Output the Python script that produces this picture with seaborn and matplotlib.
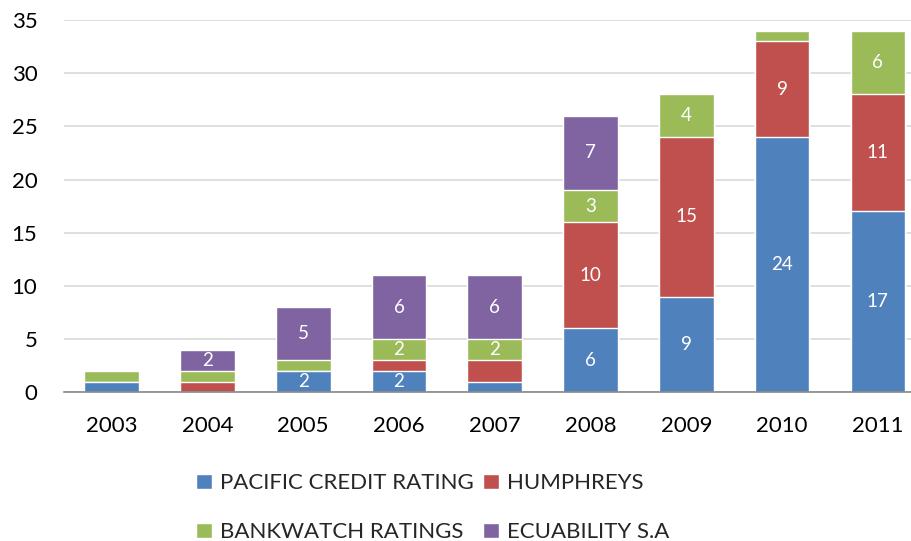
import numpy as np
import pandas as pd
import seaborn as sns
import matplotlib.pyplot as plt

# Data
years = ['2003', '2004', '2005', '2006', '2007', '2008', '2009', '2010', '2011']
series = ['PACIFIC CREDIT RATING', 'HUMPHREYS', 'BANKWATCH RATINGS', 'ECUABILITY S.A']
pacific = [1, 0, 2, 2, 1, 6, 9, 24, 17]
humphreys = [0, 1, 0, 1, 2, 10, 15, 9, 11]
bankwatch = [1, 1, 1, 2, 2, 3, 4, 1, 6]
ecuability = [0, 2, 5, 6, 6, 7, 0, 0, 0]
colors = ['#4F81BD', '#C0504D', '#9BBB59', '#8064A2']

# which segments carry a value label in the original
show_label = [
    [0, 0, 1, 1, 0, 1, 1, 1, 1],
    [0, 0, 0, 0, 0, 1, 1, 1, 1],
    [0, 0, 0, 1, 1, 1, 1, 0, 1],
    [0, 1, 1, 1, 1, 1, 0, 0, 0],
]

sns.set_style('white')
plt.rcParams['font.family'] = ['Lato', 'DejaVu Sans']

df = pd.DataFrame({'year': years, series[0]: pacific, series[1]: humphreys,
                   series[2]: bankwatch, series[3]: ecuability})
cum = df[series].cumsum(axis=1)

fig, ax = plt.subplots(figsize=(9.12, 5.41), dpi=100)

# draw cumulative totals from the top series down so they stack
for i in range(len(series) - 1, -1, -1):
    sns.barplot(x=df['year'], y=cum[series[i]], color=colors[i], width=0.57,
                saturation=1, ax=ax, label=series[i], zorder=2)

# value labels in the middle of each segment
for i, s in enumerate(series):
    for j, y in enumerate(years):
        v = df[s][j]
        if show_label[i][j] and v > 0:
            mid = cum[s][j] - v / 2
            ax.text(j, mid, str(v), ha='center', va='center', color='white',
                    fontsize=13.5, zorder=3)

ax.set_ylim(0, 35)
ax.set_yticks(range(0, 36, 5))
ax.set_xlim(-0.5, len(years) - 0.5)
ax.yaxis.grid(True, color='#D9D9D9', linewidth=1.2, zorder=0)
ax.set_axisbelow(True)
ax.set_xlabel('')
ax.set_ylabel('')
for sp in ['top', 'right', 'left']:
    ax.spines[sp].set_visible(False)
ax.spines['bottom'].set_color('#888888')
ax.spines['bottom'].set_linewidth(1.2)
ax.tick_params(axis='both', length=0, labelsize=16, colors='black')
ax.tick_params(axis='x', pad=17)
ax.tick_params(axis='y', pad=19)

handles, labels = ax.get_legend_handles_labels()
hmap = dict(zip(labels, handles))
order = [series[0], series[2], series[1], series[3]]
ax.legend([hmap[k] for k in order], order, loc='upper center',
          bbox_to_anchor=(0.428, -0.164), ncol=2, frameon=False, fontsize=16,
          handlelength=0.7, handleheight=0.7, handletextpad=0.35,
          columnspacing=0.45, labelspacing=1.3)

# plot area runs slightly past the right edge, as in the original
fig.subplots_adjust(left=0.070, right=1.015, top=0.963, bottom=0.275)
fig.savefig('out.png')
